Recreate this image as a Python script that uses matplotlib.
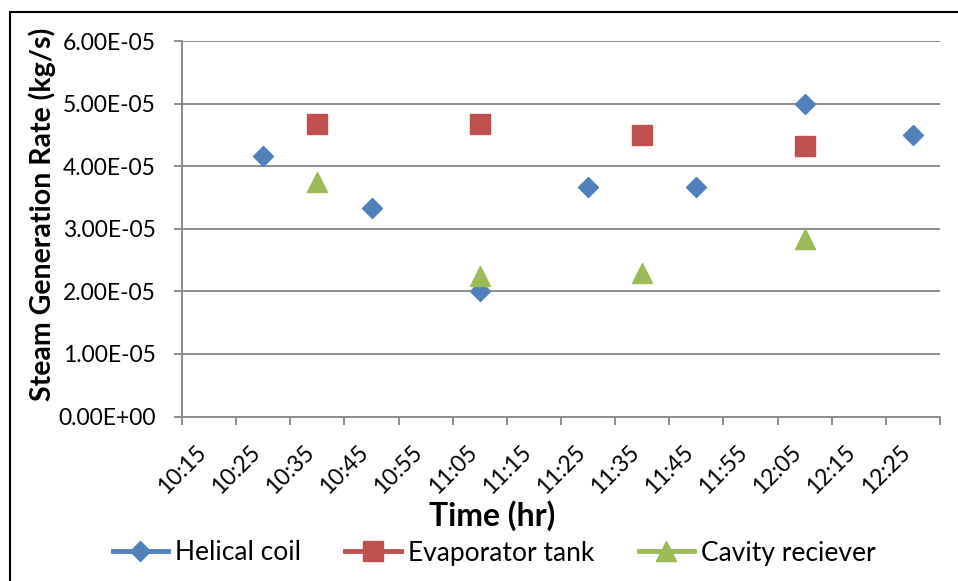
import numpy as np
from matplotlib import pyplot as plt
from matplotlib.lines import Line2D
from matplotlib.patches import Rectangle
from matplotlib.transforms import ScaledTranslation

plt.rcParams['font.family'] = ['Lato', 'DejaVu Sans']

# readings, times as hh:mm
helical_t = ['10:30', '10:50', '11:10', '11:30', '11:50', '12:10', '12:30']
helical_v = [4.17e-5, 3.33e-5, 2.00e-5, 3.67e-5, 3.67e-5, 5.00e-5, 4.50e-5]
evap_t = ['10:40', '11:10', '11:40', '12:10']
evap_v = [4.67e-5, 4.67e-5, 4.50e-5, 4.33e-5]
cavity_t = ['10:40', '11:10', '11:40', '12:10']
cavity_v = [3.75e-5, 2.25e-5, 2.30e-5, 2.84e-5]

tick_times = ['10:15', '10:25', '10:35', '10:45', '10:55', '11:05', '11:15',
              '11:25', '11:35', '11:45', '11:55', '12:05', '12:15', '12:25', '12:35']
tick_labels = tick_times[:-1] + ['']
y_ticks = [0, 1e-5, 2e-5, 3e-5, 4e-5, 5e-5, 6e-5]

BLUE = '#4F81BD'
RED = '#C0504D'
GREEN = '#9BBB59'
GRID = '#8C8C8C'


def to_min(t):
    h, m = t.split(':')
    return int(h) * 60 + int(m)


fig = plt.figure(figsize=(9.58, 5.81), dpi=100)
W, H = 958., 581.
ax = fig.add_axes([182 / W, 1 - 416.5 / H, (940 - 182) / W, (416.5 - 41.3) / H])

ax.plot([to_min(t) for t in helical_t], helical_v, 'D', color=BLUE, ms=10.2, mec=BLUE, zorder=3)
ax.plot([to_min(t) for t in evap_t], evap_v, 's', color=RED, ms=14.2, mec=RED, zorder=3)
ax.plot([to_min(t) for t in cavity_t], cavity_v, '^', color=GREEN, ms=14.2, mec=GREEN, zorder=3)

ax.set_xlim(to_min(tick_times[0]), to_min(tick_times[-1]))
ax.set_ylim(0, 6e-5)
ax.set_xticks([to_min(t) for t in tick_times])
ax.set_xticklabels(tick_labels, rotation=45, ha='center', va='top', fontsize=16.5)
ax.set_yticks(y_ticks)
ax.set_yticklabels([f'{v:.2E}' for v in y_ticks], fontsize=16.5)
off = ScaledTranslation(6 / 100, 0, fig.dpi_scale_trans)
for lab in ax.get_xticklabels():
    lab.set_transform(lab.get_transform() + off)

ax.yaxis.grid(True, color=GRID, lw=1.4)
ax.set_axisbelow(True)
for s in ['top', 'right']:
    ax.spines[s].set_visible(False)
for s in ['left', 'bottom']:
    ax.spines[s].set_color(GRID)
    ax.spines[s].set_linewidth(1.4)
ax.tick_params(axis='both', direction='out', length=6, width=1.4, color=GRID)
ax.tick_params(axis='y', pad=13)
ax.tick_params(axis='x', pad=12)

fig.text(492 / W, 1 - 516 / H, 'Time (hr)', fontsize=23, fontweight='bold',
         ha='center', va='center')
fig.text(42 / W, 1 - 214 / H, 'Steam Generation Rate (kg/s)', fontsize=20.5,
         fontweight='bold', rotation=90, ha='center', va='center')

handles = [
    Line2D([], [], color=BLUE, lw=3.5, marker='D', ms=10.2),
    Line2D([], [], color=RED, lw=3.5, marker='s', ms=14.2),
    Line2D([], [], color=GREEN, lw=3.5, marker='^', ms=14.2),
]
fig.legend(handles, ['Helical coil', 'Evaporator tank', 'Cavity reciever'],
           loc='center', bbox_to_anchor=(494 / W, 1 - 553 / H), ncol=3,
           frameon=False, fontsize=19, handlelength=2.1, handletextpad=0.25,
           columnspacing=1.7, borderpad=0)

fig.patches.append(Rectangle((9.5 / W, -0.1), 1.2, 1.1 - 11.5 / H, transform=fig.transFigure,
                             fill=False, edgecolor='black', lw=1.5))

fig.savefig('out.png', dpi=100)
